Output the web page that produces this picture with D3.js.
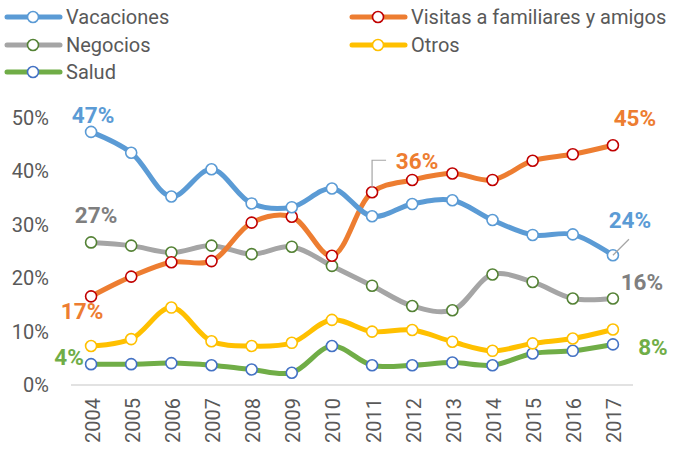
<!DOCTYPE html>
<html><head><meta charset="utf-8">
<script src="https://cdn.jsdelivr.net/npm/d3@7"></script>
<style>body{margin:0;background:#fff}svg{display:block}text{font-family:Roboto,"Noto Sans",sans-serif}</style>
</head><body><svg id="c" width="684" height="450"></svg>
<script>
const years = ["2004","2005","2006","2007","2008","2009","2010","2011","2012","2013","2014","2015","2016","2017"];
const vacaciones = [47.4,43.5,35.3,40.4,34.0,33.3,36.8,31.6,33.9,34.6,30.9,28.1,28.2,24.3];
const visitas    = [16.6,20.3,23.0,23.2,30.4,31.5,24.2,36.1,38.4,39.6,38.4,42.0,43.2,44.9];
const negocios   = [26.7,26.1,24.8,26.1,24.5,25.9,22.3,18.6,14.8,14.0,20.7,19.3,16.2,16.2];
const otros      = [7.3,8.6,14.5,8.2,7.3,7.9,12.2,10.0,10.3,8.1,6.4,7.8,8.7,10.4];
const salud      = [3.9,3.9,4.1,3.7,2.9,2.3,7.3,3.7,3.7,4.2,3.7,5.9,6.4,7.6];
const seriesNames = ["Vacaciones","Visitas a familiares y amigos","Negocios","Otros","Salud"];
const yTicks = [0,10,20,30,40,50];

const series = [
  {name:seriesNames[0], values:vacaciones, line:"#5B9BD5", mark:"#5B9BD5", label:"#5B9BD5"},
  {name:seriesNames[1], values:visitas,    line:"#ED7D31", mark:"#C00000", label:"#ED7D31"},
  {name:seriesNames[2], values:negocios,   line:"#A5A5A5", mark:"#548235", label:"#7F7F7F"},
  {name:seriesNames[3], values:otros,      line:"#FFC000", mark:"#FFC000", label:"#FFC000"},
  {name:seriesNames[4], values:salud,      line:"#70AD47", mark:"#4472C4", label:"#70AD47"}
];

const svg = d3.select("#c");
const x = d3.scalePoint().domain(years).range([71,633]).padding(0.5);
const y = d3.scaleLinear().domain([0,50]).range([385,118]);

// axis line
svg.append("line").attr("x1",71).attr("x2",633).attr("y1",y(0)).attr("y2",y(0))
  .attr("stroke","#D9D9D9").attr("stroke-width",1.5);

// y ticks
const ya = d3.axisLeft(y).tickValues(yTicks).tickFormat(d=>d+"%").tickSize(0).tickPadding(0);
const yg = svg.append("g").attr("transform","translate(49,0)").call(ya);
yg.select(".domain").remove();
yg.selectAll("text").attr("font-size",20).attr("fill","#595959").attr("font-family","Roboto");

// x ticks
const xa = d3.axisBottom(x).tickSize(0).tickPadding(0);
const xg = svg.append("g").attr("transform",`translate(0,${y(0)})`).call(xa);
xg.select(".domain").remove();
xg.selectAll("text").attr("font-size",20).attr("fill","#595959").attr("font-family","Roboto")
  .attr("text-anchor","end").attr("dy",null)
  .attr("transform","translate(8,13) rotate(-90)");

const line = d3.line().x((d,i)=>x(years[i])).y(d=>y(d)).curve(d3.curveCatmullRom.alpha(0.5));

series.slice().reverse().forEach(s=>{
  svg.append("path").attr("d",line(s.values)).attr("fill","none")
    .attr("stroke",s.line).attr("stroke-width",5).attr("stroke-linejoin","round").attr("stroke-linecap","round");
});
series.slice().reverse().forEach(s=>{
  svg.append("g").selectAll("circle").data(s.values).join("circle")
    .attr("cx",(d,i)=>x(years[i])).attr("cy",d=>y(d)).attr("r",5.5)
    .attr("fill","#fff").attr("stroke",s.mark).attr("stroke-width",1.6);
});

// data labels
const fmt = v => Math.round(v)+"%";
const labels = [
  {s:0,i:0,dx:2,dy:-9},
  {s:2,i:0,dx:5,dy:-19},
  {s:1,i:0,dx:-9,dy:23},
  {s:4,i:0,dx:-22,dy:1},
  {s:1,i:7,dx:45,dy:-23},
  {s:1,i:13,dx:22,dy:-19},
  {s:0,i:13,dx:17,dy:-27},
  {s:2,i:13,dx:29,dy:-8},
  {s:4,i:13,dx:40,dy:11}
];
labels.forEach(l=>{
  const s = series[l.s], v = s.values[l.i];
  svg.append("text").attr("x",x(years[l.i])+l.dx).attr("y",y(v)+l.dy)
    .attr("text-anchor","middle").attr("font-size",22.5).attr("font-weight","bold")
    .attr("fill",s.label).text(fmt(v));
});
// leader lines
{
  const px = x(years[7]), py = y(visitas[7]);
  svg.append("path").attr("d",`M${px},${py-5}L${px},${py-32}L${px+14},${py-32}`)
    .attr("fill","none").attr("stroke","#A5A5A5").attr("stroke-width",1.2);
  const qx = x(years[13]), qy = y(vacaciones[13]);
  svg.append("path").attr("d",`M${qx},${qy}L${qx+16},${qy-16}`)
    .attr("fill","none").attr("stroke","#A5A5A5").attr("stroke-width",1.2);
}

// legend
const legPos = [[5,17],[350,17],[5,45],[350,45],[5,72]];
series.forEach((s,k)=>{
  const [lx,ly] = legPos[k];
  const g = svg.append("g").attr("transform",`translate(${lx},${ly})`);
  g.append("line").attr("x1",2).attr("x2",55).attr("y1",0).attr("y2",0)
    .attr("stroke",s.line).attr("stroke-width",5).attr("stroke-linecap","round");
  g.append("circle").attr("cx",28).attr("cy",0).attr("r",5.5).attr("fill","#fff")
    .attr("stroke",s.mark).attr("stroke-width",1.6);
  g.append("text").attr("x",61).attr("y",0).attr("dy","0.35em").attr("font-size",20)
    .attr("fill","#595959").text(s.name);
});
</script></body></html>
